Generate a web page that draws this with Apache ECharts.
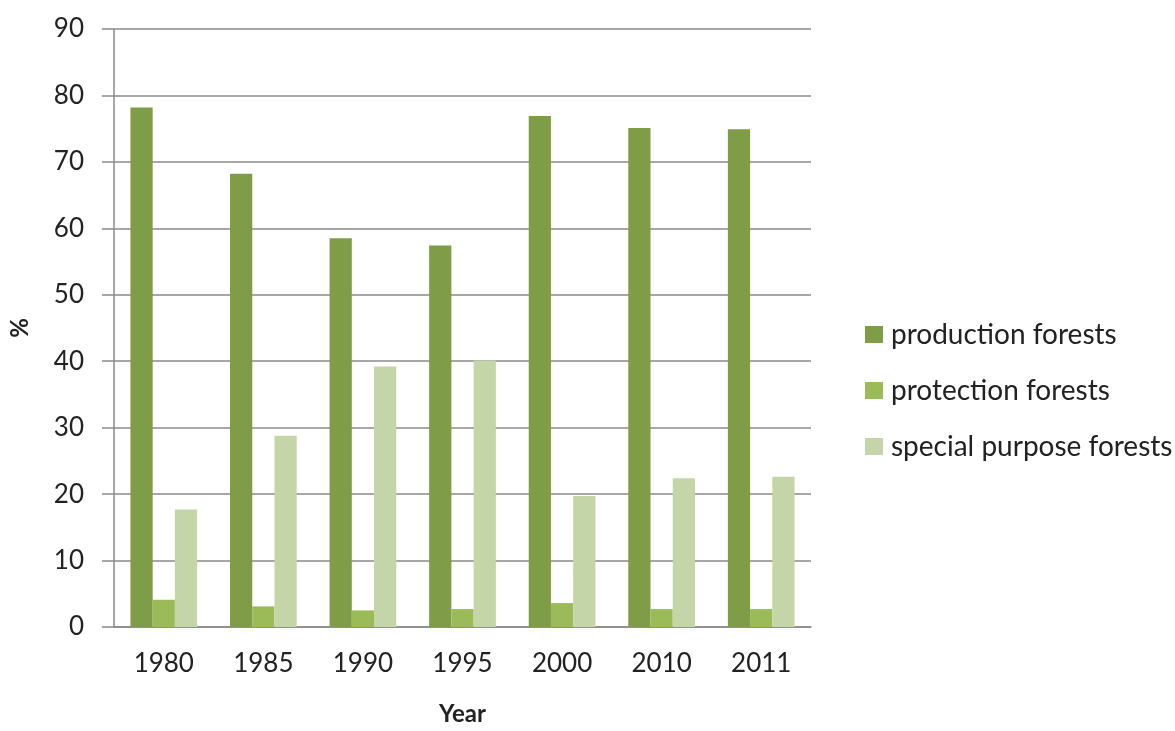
<!DOCTYPE html>
<html>
<head>
<meta charset="utf-8">
<script src="https://cdn.jsdelivr.net/npm/echarts@6/dist/echarts.min.js"></script>
<style>
  html, body { margin: 0; padding: 0; background: #fff; }
  #chart { width: 1175px; height: 731px; }
</style>
</head>
<body>
<div id="chart"></div>
<script>
// Forest area by function, share of total (%)
const years = ['1980', '1985', '1990', '1995', '2000', '2010', '2011'];
const productionForests = [78.2, 68.2, 58.5, 57.4, 76.9, 75.1, 74.9];
const protectionForests = [4.1, 3.1, 2.5, 2.7, 3.6, 2.7, 2.7];
const specialPurposeForests = [17.7, 28.8, 39.2, 40.1, 19.7, 22.4, 22.6];
const seriesNames = ['production forests', 'protection forests', 'special purpose forests'];
const seriesColors = ['#7f9c47', '#9bbb59', '#c4d6a8'];

const font = 'Lato';
const textColor = '#222';
const lineColor = '#8a8a8a';
const chart = echarts.init(document.getElementById('chart'));

function bar(name, data, color) {
  return {
    name: name,
    type: 'bar',
    data: data,
    barGap: '0%',
    barCategoryGap: '33%',
    itemStyle: { color: color },
    emphasis: { disabled: true }
  };
}

chart.setOption({
  animation: false,
  backgroundColor: '#ffffff',
  grid: { left: 108, right: 364, top: 29, bottom: 96, containLabel: false },
  legend: {
    orient: 'vertical',
    left: 860,
    top: 314,
    itemWidth: 18,
    itemHeight: 17,
    itemGap: 25,
    icon: 'rect',
    textStyle: { fontFamily: font, fontSize: 28, lineHeight: 31, color: textColor, padding: [0, 0, 0, 3] },
    data: seriesNames
  },
  xAxis: {
    type: 'category',
    data: years,
    name: 'Year',
    nameLocation: 'middle',
    nameGap: 75,
    nameTextStyle: { fontFamily: font, fontSize: 24, fontWeight: 'bold', color: textColor },
    axisLine: { lineStyle: { color: lineColor, width: 1.5 } },
    axisTick: { show: false },
    axisLabel: { fontFamily: font, fontSize: 26, color: textColor, margin: 24 }
  },
  yAxis: {
    type: 'value',
    min: 0,
    max: 90,
    interval: 10,
    name: '%',
    nameLocation: 'middle',
    nameGap: 82,
    nameRotate: 90,
    nameTextStyle: { fontFamily: font, fontSize: 24, fontWeight: 'bold', color: textColor },
    axisLine: { show: true, lineStyle: { color: lineColor, width: 1.5 } },
    axisTick: { show: true, inside: false, length: 12, lineStyle: { color: lineColor, width: 1.5 } },
    axisLabel: { fontFamily: font, fontSize: 26, color: textColor, margin: 30 },
    splitLine: { lineStyle: { color: lineColor, width: 1.5 } }
  },
  series: [
    bar(seriesNames[0], productionForests, seriesColors[0]),
    bar(seriesNames[1], protectionForests, seriesColors[1]),
    bar(seriesNames[2], specialPurposeForests, seriesColors[2])
  ]
});
</script>
</body>
</html>
